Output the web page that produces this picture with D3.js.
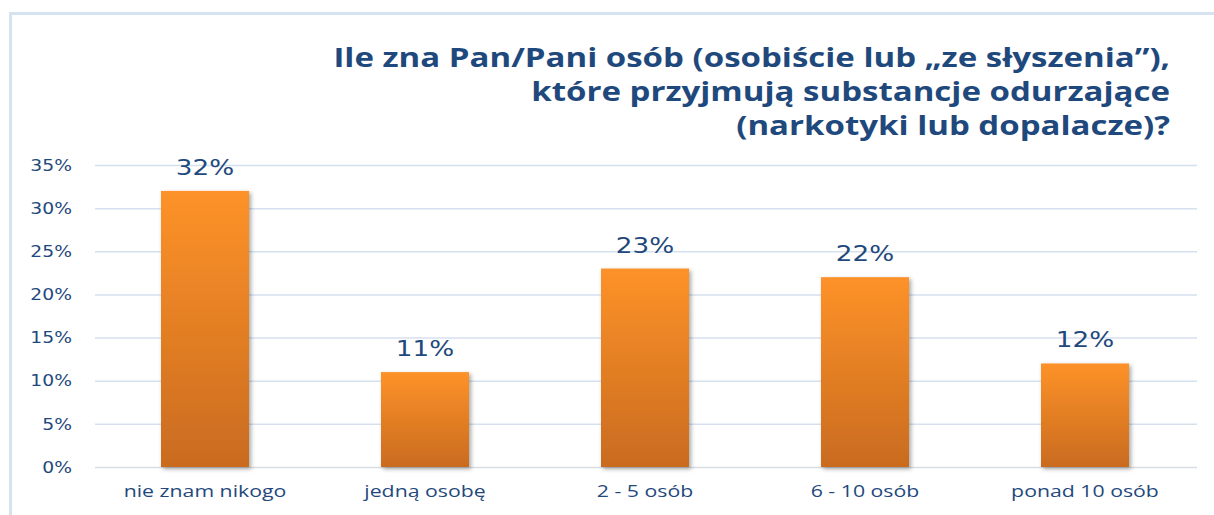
<!DOCTYPE html>
<html>
<head>
<meta charset="utf-8">
<script src="https://cdn.jsdelivr.net/npm/d3@7"></script>
<style>
  body { margin: 0; background: #fff; }
  svg { display: block; }
  .tick text { fill: #1f497d; }
</style>
</head>
<body>
<svg width="1214" height="515"></svg>
<script>
// **** data ****
var categories = ['nie znam nikogo', 'jedną osobę', '2 - 5 osób', '6 - 10 osób', 'ponad 10 osób'];
var values = [32, 11, 23, 22, 12];
var yTicks = [0, 5, 10, 15, 20, 25, 30, 35];
var titleLines = ['Ile zna Pan/Pani osób (osobiście lub „ze słyszenia”),',
                  'które przyjmują substancje odurzające',
                  '(narkotyki lub dopalacze)?'];

var svg = d3.select('svg');
var textColor = '#1f497d';

// frame
svg.append('path')
    .attr('d', 'M10.5,515 V13.5 H1214')
    .attr('fill', 'none')
    .attr('stroke', '#d5e2f0')
    .attr('stroke-width', 3);

// **** scales ****
var xScale = d3.scaleBand()
    .domain(categories).range([95, 1195])
    .paddingInner(0.6).paddingOuter(0.3);

var yScale = d3.scaleLinear()
    .domain([0, 35]).range([467, 165]);

// gradient + shadow
var defs = svg.append('defs');
var grad = defs.append('linearGradient')
    .attr('id', 'barGrad').attr('x1', 0).attr('y1', 0).attr('x2', 0).attr('y2', 1);
grad.append('stop').attr('offset', '0%').attr('stop-color', '#fd9229');
grad.append('stop').attr('offset', '100%').attr('stop-color', '#c96b1f');

var shadow = defs.append('filter').attr('id', 'shadow')
    .attr('x', '-20%').attr('y', '-10%').attr('width', '140%').attr('height', '120%');
shadow.append('feDropShadow')
    .attr('dx', 2).attr('dy', 2).attr('stdDeviation', 2)
    .attr('flood-color', '#000').attr('flood-opacity', 0.35);

// gridlines
svg.append('g').attr('class', 'grid')
    .selectAll('line').data(yTicks).enter().append('line')
    .attr('x1', 95).attr('x2', 1197)
    .attr('y1', function(d){ return yScale(d) + 0.5; })
    .attr('y2', function(d){ return yScale(d) + 0.5; })
    .attr('stroke', function(d){ return d === 0 ? '#d9dde3' : '#d6e1f0'; })
    .attr('stroke-width', 1.5);

// y axis (text is horizontally stretched like in the original)
var yAxis = svg.append('g').attr('class', 'y axis')
    .attr('transform', 'translate(72,0)')
    .call(d3.axisLeft(yScale).tickValues(yTicks).tickSize(0).tickPadding(0)
        .tickFormat(function(d){ return d + '%'; }));
yAxis.select('.domain').remove();
yAxis.selectAll('text')
    .attr('x', 0)
    .attr('transform', 'scale(1.25,1)')
    .style('font-family', 'Verdana, "DejaVu Sans", sans-serif')
    .style('font-size', '15px')
    .attr('dy', '0.35em');

// bars
svg.append('g').selectAll('rect').data(values).enter().append('rect')
    .attr('x', function(d, i){ return xScale(categories[i]); })
    .attr('y', function(d){ return yScale(d); })
    .attr('width', xScale.bandwidth())
    .attr('height', function(d){ return yScale(0) - yScale(d); })
    .attr('fill', 'url(#barGrad)')
    .attr('filter', 'url(#shadow)');

// value labels
svg.append('g').selectAll('text').data(values).enter().append('text')
    .attr('transform', function(d, i){
        var cx = xScale(categories[i]) + xScale.bandwidth() / 2;
        return 'translate(' + cx + ',' + (yScale(d) - 16) + ') scale(1.25,1)';
    })
    .attr('text-anchor', 'middle')
    .style('font-family', 'Verdana, "DejaVu Sans", sans-serif')
    .style('font-size', '21px')
    .style('fill', textColor)
    .text(function(d){ return d + '%'; });

// x axis
var xAxis = svg.append('g').attr('class', 'x axis')
    .attr('transform', 'translate(0,467)')
    .call(d3.axisBottom(xScale).tickSize(0).tickPadding(0));
xAxis.select('.domain').remove();
xAxis.selectAll('text')
    .attr('y', 0)
    .attr('dy', '30px')
    .attr('transform', 'scale(1.33,1)')
    .style('font-family', '"Open Sans", sans-serif')
    .style('font-size', '16px');

// title
svg.append('g').selectAll('text').data(titleLines).enter().append('text')
    .attr('transform', function(d, i){
        return 'translate(1170,' + (67 + i * 34) + ') scale(1.27,1)';
    })
    .attr('text-anchor', 'end')
    .style('font-family', '"Open Sans", sans-serif')
    .style('font-weight', 'bold')
    .style('font-size', '26px')
    .style('fill', textColor)
    .text(function(d){ return d; });
</script>
</body>
</html>
